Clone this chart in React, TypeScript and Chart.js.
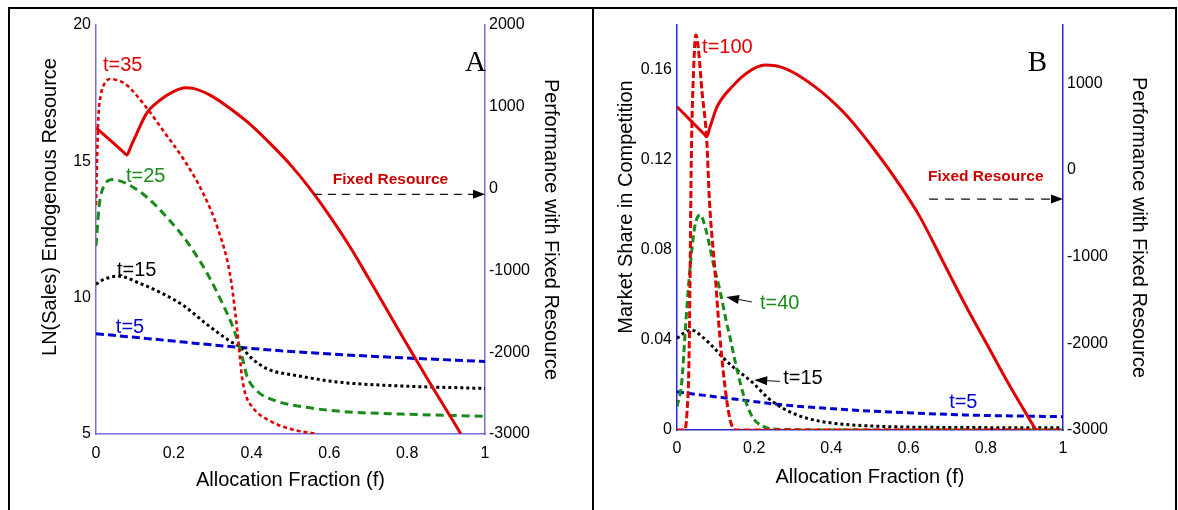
import React, { useEffect, useRef } from "react";
import { Chart, registerables } from "chart.js";

Chart.register(...registerables);

const SANS = "'Liberation Sans', Arial, Helvetica, sans-serif";
const SERIF = "'Liberation Serif', 'Times New Roman', Times, serif";

const RED = "#e00000";
const GREEN = "#1a8a1a";
const BLUE = "#0000d0";
const BLACK = "#000000";
const LABEL_RED = "#cc0000";

// ---------- shared ----------
const xTickValues = [0, 0.2, 0.4, 0.6, 0.8, 1];

// ---------- Panel A ----------
const aLeftTicks = [5, 10, 15, 20];
const aRightTicks = [-3000, -2000, -1000, 0, 1000, 2000];

// Performance with fixed resource (right axis)
const aPerfF = [0, 0.04, 0.07, 0.079, 0.09, 0.105, 0.13, 0.165, 0.199, 0.229, 0.25, 0.3, 0.35, 0.4, 0.45, 0.5, 0.55, 0.6, 0.65, 0.7, 0.75, 0.8, 0.85, 0.9, 0.938];
const aPerfV = [745, 576, 449, 411, 520, 676, 920, 1083, 1185, 1234, 1225, 1125, 960, 770, 540, 290, 0, -330, -690, -1090, -1500, -1910, -2310, -2700, -3000];

// t=35 (left axis)
const aT35F = [0, 0.003, 0.006, 0.012, 0.02, 0.036, 0.06, 0.079, 0.128, 0.177, 0.226, 0.275, 0.314, 0.344, 0.359, 0.368, 0.375, 0.383, 0.403, 0.442, 0.501, 0.57];
const aT35V = [13.4, 15.2, 16.6, 17.4, 17.8, 18.02, 17.95, 17.8, 17.0, 16.04, 15.06, 13.84, 12.5, 10.9, 9.33, 8.1, 7.13, 6.52, 5.97, 5.52, 5.18, 5.0];

// t=25
const aT25F = [0, 0.008, 0.02, 0.044, 0.079, 0.128, 0.187, 0.236, 0.285, 0.324, 0.354, 0.373, 0.388, 0.413, 0.462, 0.54, 0.639, 0.786, 1];
const aT25V = [11.9, 13.35, 14.09, 14.33, 14.18, 13.72, 12.87, 12.01, 10.91, 9.82, 8.84, 7.99, 7.13, 6.59, 6.22, 5.98, 5.82, 5.73, 5.65];

// t=15
const aT15F = [0, 0.02, 0.059, 0.108, 0.167, 0.226, 0.285, 0.344, 0.373, 0.403, 0.442, 0.521, 0.619, 0.737, 1];
const aT15V = [10.49, 10.67, 10.79, 10.55, 10.18, 9.7, 9.02, 8.41, 8.17, 7.74, 7.38, 7.13, 6.91, 6.79, 6.67];

// t=5
const aT5F = [0, 0.147, 0.373, 0.54, 0.737, 1];
const aT5V = [8.68, 8.48, 8.17, 7.99, 7.83, 7.66];

// ---------- Panel B ----------
const bLeftTicks = [0, 0.04, 0.08, 0.12, 0.16];
const bRightTicks = [-3000, -2000, -1000, 0, 1000];

const bPerfF = [0, 0.04, 0.07, 0.077, 0.085, 0.104, 0.143, 0.182, 0.228, 0.279, 0.357, 0.434, 0.512, 0.58, 0.629, 0.687, 0.745, 0.804, 0.862, 0.93];
const bPerfV = [730, 550, 415, 384, 487, 731, 962, 1123, 1211, 1173, 962, 654, 231, -192, -538, -1038, -1540, -2020, -2490, -3000];

// t=100
const bT100F = [0, 0.02, 0.026, 0.031, 0.034, 0.037, 0.043, 0.049, 0.055, 0.065, 0.077, 0.084, 0.098, 0.111, 0.128, 0.14, 0.155, 0.2, 0.4, 0.6, 0.8, 1];
const bT100V = [0, 0, 0.008, 0.03, 0.07, 0.12, 0.16, 0.1756, 0.17, 0.15, 0.129, 0.102, 0.0711, 0.0415, 0.0142, 0.003, 0, 0, 0, 0, 0, 0];

// t=40
const bT40F = [0, 0.012, 0.021, 0.028, 0.036, 0.046, 0.06, 0.075, 0.094, 0.111, 0.128, 0.137, 0.15, 0.171, 0.195, 0.225, 0.26, 0.4, 0.6, 0.8, 1];
const bT40V = [0.0104, 0.0207, 0.043, 0.06, 0.076, 0.0904, 0.0956, 0.0889, 0.074, 0.0622, 0.048, 0.0415, 0.031, 0.0164, 0.0059, 0.0015, 0.0003, 0, 0, 0, 0];

// t=15
const bT15F = [0, 0.017, 0.038, 0.065, 0.093, 0.12, 0.145, 0.197, 0.236, 0.279, 0.337, 0.405, 0.502, 0.648, 1];
const bT15V = [0.0407, 0.043, 0.0444, 0.0415, 0.037, 0.032, 0.0281, 0.0209, 0.0142, 0.0092, 0.0052, 0.003, 0.0018, 0.0012, 0.001];

// t=5
const bT5F = [0, 0.065, 0.162, 0.26, 0.405, 0.551, 0.745, 1];
const bT5V = [0.017, 0.0155, 0.0135, 0.0114, 0.0094, 0.008, 0.0067, 0.0059];

// ---------- helpers ----------
const pts = (f: number[], v: number[]) => f.map((x, i) => ({ x, y: v[i] }));

type DS = { f: number[]; v: number[]; axis: "y" | "y1"; color: string; width: number; dash: number[] };
type Label = { text: string; f: number; v: number; axis: "y" | "y1"; color: string; font: string; align: CanvasTextAlign };
type Arrow = { f1: number; v1: number; f2: number; v2: number; axis: "y" | "y1"; dash: number[]; width: number; head: number; half: number };

type Panel = {
  id: string;
  datasets: DS[];
  leftMin: number; leftMax: number; leftTicks: number[];
  rightMin: number; rightMax: number; rightTicks: number[];
  axisColor: string;
  leftW: number; rightW: number; xH: number; padTop: number;
  xTickPad: number; xTitlePad: number; rightTitlePad: number;
  leftTitle: string; leftTitleX: number; leftTitleY: number;
  labels: Label[];
  arrows: Arrow[];
  letter: string; letterX: number; letterY: number;
};

const tFont = `20px ${SANS}`;
const frFont = `bold 15.5px ${SANS}`;

const panelA: Panel = {
  id: "A",
  datasets: [
    { f: aPerfF, v: aPerfV, axis: "y1", color: RED, width: 3, dash: [] },
    { f: aT35F, v: aT35V, axis: "y", color: RED, width: 2.6, dash: [4, 3] },
    { f: aT25F, v: aT25V, axis: "y", color: GREEN, width: 3, dash: [8, 5] },
    { f: aT15F, v: aT15V, axis: "y", color: BLACK, width: 3, dash: [3, 3] },
    { f: aT5F, v: aT5V, axis: "y", color: BLUE, width: 3, dash: [8, 4] },
  ],
  leftMin: 5, leftMax: 20, leftTicks: aLeftTicks,
  rightMin: -3000, rightMax: 2000, rightTicks: aRightTicks,
  axisColor: "#7070dc",
  leftW: 86, rightW: 107, xH: 76, padTop: 15,
  xTickPad: 10, xTitlePad: 18, rightTitlePad: 29,
  leftTitle: "LN(Sales) Endogenous Resource", leftTitleX: 40, leftTitleY: 197,
  labels: [
    { text: "t=35", f: 0.018, v: 18.53, axis: "y", color: RED, font: tFont, align: "left" },
    { text: "t=25", f: 0.077, v: 14.46, axis: "y", color: GREEN, font: tFont, align: "left" },
    { text: "t=15", f: 0.054, v: 10.98, axis: "y", color: BLACK, font: tFont, align: "left" },
    { text: "t=5", f: 0.051, v: 8.89, axis: "y", color: BLUE, font: tFont, align: "left" },
    { text: "Fixed Resource", f: 0.757, v: 105, axis: "y1", color: LABEL_RED, font: frFont, align: "center" },
  ],
  arrows: [
    { f1: 0.56, v1: -70, f2: 1, v2: -70, axis: "y1", dash: [8, 6], width: 1.2, head: 12, half: 4.5 },
  ],
  letter: "A", letterX: 476, letterY: 61,
};

const panelB: Panel = {
  id: "B",
  datasets: [
    { f: bPerfF, v: bPerfV, axis: "y1", color: RED, width: 3, dash: [] },
    { f: bT100F, v: bT100V, axis: "y", color: RED, width: 3, dash: [7, 3] },
    { f: bT40F, v: bT40V, axis: "y", color: GREEN, width: 3, dash: [7, 4] },
    { f: bT15F, v: bT15V, axis: "y", color: BLACK, width: 3, dash: [3, 3] },
    { f: bT5F, v: bT5V, axis: "y", color: BLUE, width: 3, dash: [7, 4] },
  ],
  leftMin: 0, leftMax: 0.18, leftTicks: bLeftTicks,
  rightMin: -3000, rightMax: 1673, rightTicks: bRightTicks,
  axisColor: "#2828d0",
  leftW: 83, rightW: 113, xH: 80, padTop: 15,
  xTickPad: 9, xTitlePad: 21, rightTitlePad: 25,
  leftTitle: "Market Share in Competition", leftTitleX: 32, leftTitleY: 197,
  labels: [
    { text: "t=100", f: 0.065, v: 0.1698, axis: "y", color: RED, font: tFont, align: "left" },
    { text: "t=40", f: 0.215, v: 0.0564, axis: "y", color: GREEN, font: tFont, align: "left" },
    { text: "t=15", f: 0.275, v: 0.0231, axis: "y", color: BLACK, font: tFont, align: "left" },
    { text: "t=5", f: 0.705, v: 0.01244, axis: "y", color: BLUE, font: tFont, align: "left" },
    { text: "Fixed Resource", f: 0.8, v: -81, axis: "y1", color: LABEL_RED, font: frFont, align: "center" },
  ],
  arrows: [
    { f1: 0.653, v1: -335, f2: 1, v2: -335, axis: "y1", dash: [9, 7], width: 1.2, head: 12, half: 4.5 },
    { f1: 0.194, v1: 0.0569, f2: 0.127, v2: 0.0591, axis: "y", dash: [], width: 1, head: 13, half: 4.5 },
    { f1: 0.267, v1: 0.0216, f2: 0.2, v2: 0.0222, axis: "y", dash: [], width: 1, head: 13, half: 4.5 },
  ],
  letter: "B", letterX: 453, letterY: 61,
};

function makePlugin(p: Panel) {
  return {
    id: "annot" + p.id,
    afterDatasetsDraw(chart: any) {
      const ctx: CanvasRenderingContext2D = chart.ctx;
      const xs = chart.scales.x;
      ctx.save();
      // arrows
      for (const a of p.arrows) {
        const ys = chart.scales[a.axis];
        const x1 = xs.getPixelForValue(a.f1), y1 = ys.getPixelForValue(a.v1);
        const x2 = xs.getPixelForValue(a.f2), y2 = ys.getPixelForValue(a.v2);
        const ang = Math.atan2(y2 - y1, x2 - x1);
        const bx = x2 - a.head * Math.cos(ang), by = y2 - a.head * Math.sin(ang);
        ctx.strokeStyle = "#111";
        ctx.lineWidth = a.width;
        ctx.setLineDash(a.dash);
        ctx.beginPath();
        ctx.moveTo(x1, y1);
        ctx.lineTo(bx, by);
        ctx.stroke();
        ctx.setLineDash([]);
        ctx.fillStyle = "#000";
        ctx.beginPath();
        ctx.moveTo(x2, y2);
        ctx.lineTo(bx + a.half * Math.sin(ang), by - a.half * Math.cos(ang));
        ctx.lineTo(bx - a.half * Math.sin(ang), by + a.half * Math.cos(ang));
        ctx.closePath();
        ctx.fill();
      }
      // labels
      ctx.textBaseline = "middle";
      for (const l of p.labels) {
        const ys = chart.scales[l.axis];
        ctx.font = l.font;
        ctx.fillStyle = l.color;
        ctx.textAlign = l.align;
        ctx.fillText(l.text, xs.getPixelForValue(l.f), ys.getPixelForValue(l.v));
      }
      // panel letter
      ctx.font = `29px ${SERIF}`;
      ctx.fillStyle = "#000";
      ctx.textAlign = "right";
      ctx.textBaseline = "alphabetic";
      ctx.fillText(p.letter, p.letterX, p.letterY);
      // left axis title
      ctx.save();
      ctx.translate(p.leftTitleX, p.leftTitleY);
      ctx.rotate(-Math.PI / 2);
      ctx.font = `20px ${SANS}`;
      ctx.textAlign = "center";
      ctx.textBaseline = "middle";
      ctx.fillText(p.leftTitle, 0, 0);
      ctx.restore();
      ctx.restore();
    },
  };
}

function makeConfig(p: Panel): any {
  const tickFont = { family: SANS, size: 16 };
  return {
    type: "line",
    data: {
      datasets: p.datasets.map((d) => ({
        data: pts(d.f, d.v),
        yAxisID: d.axis,
        borderColor: d.color,
        borderWidth: d.width,
        borderDash: d.dash,
        borderCapStyle: "butt",
        pointRadius: 0,
        fill: false,
        cubicInterpolationMode: "monotone",
      })),
    },
    options: {
      responsive: false,
      animation: false,
      events: [],
      layout: { padding: { top: p.padTop, left: 0, right: 0, bottom: 0 } },
      plugins: { legend: { display: false }, tooltip: { enabled: false }, title: { display: false } },
      scales: {
        x: {
          type: "linear",
          position: "bottom",
          min: 0,
          max: 1,
          grid: { display: false, drawTicks: false },
          border: { display: true, color: p.axisColor, width: 1.5 },
          ticks: { padding: p.xTickPad, font: tickFont, color: "#000", maxRotation: 0, callback: (v: number) => String(v) },
          afterBuildTicks: (s: any) => { s.ticks = xTickValues.map((v) => ({ value: v })); },
          afterFit: (s: any) => { s.height = p.xH; },
          title: {
            display: true,
            text: "Allocation Fraction (f)",
            color: "#000",
            font: { family: SANS, size: 20 },
            padding: { top: 0, bottom: p.xTitlePad },
          },
        },
        y: {
          type: "linear",
          position: "left",
          min: p.leftMin,
          max: p.leftMax,
          grid: { display: false, drawTicks: false },
          border: { display: true, color: p.axisColor, width: 1.5 },
          ticks: { padding: 5, font: tickFont, color: "#000", callback: (v: number) => String(v) },
          afterBuildTicks: (s: any) => { s.ticks = p.leftTicks.map((v) => ({ value: v })); },
          afterFit: (s: any) => { s.width = p.leftW; },
        },
        y1: {
          type: "linear",
          position: "right",
          min: p.rightMin,
          max: p.rightMax,
          grid: { display: false, drawTicks: false },
          border: { display: true, color: p.axisColor, width: 1.5 },
          ticks: { padding: 4, font: tickFont, color: "#000", callback: (v: number) => String(v) },
          afterBuildTicks: (s: any) => { s.ticks = p.rightTicks.map((v) => ({ value: v })); },
          afterFit: (s: any) => { s.width = p.rightW; },
          title: {
            display: true,
            text: "Performance with Fixed Resource",
            color: "#000",
            font: { family: SANS, size: 20 },
            padding: { top: p.rightTitlePad, bottom: 0 },
          },
        },
      },
    },
    plugins: [makePlugin(p)],
  };
}

function PanelChart({ panel, left }: { panel: Panel; left: number }) {
  const ref = useRef<HTMLCanvasElement | null>(null);
  useEffect(() => {
    if (!ref.current) return;
    const chart = new Chart(ref.current, makeConfig(panel));
    return () => chart.destroy();
  }, [panel]);
  return (
    <canvas
      ref={ref}
      width={582}
      height={500}
      style={{ position: "absolute", left, top: 10, width: 582, height: 500 }}
    />
  );
}

export default function App() {
  return (
    <div style={{ position: "absolute", left: 0, top: 0, width: 1178, height: 510, overflow: "hidden", background: "#fff" }}>
      <div style={{ position: "absolute", left: 8, top: 7, width: 1169, height: 2, background: "#000" }} />
      <div style={{ position: "absolute", left: 8, top: 7, width: 2, height: 510, background: "#000" }} />
      <div style={{ position: "absolute", left: 592, top: 7, width: 2, height: 510, background: "#000" }} />
      <div style={{ position: "absolute", left: 1175, top: 7, width: 2, height: 510, background: "#000" }} />
      <PanelChart panel={panelA} left={10} />
      <PanelChart panel={panelB} left={594} />
    </div>
  );
}
